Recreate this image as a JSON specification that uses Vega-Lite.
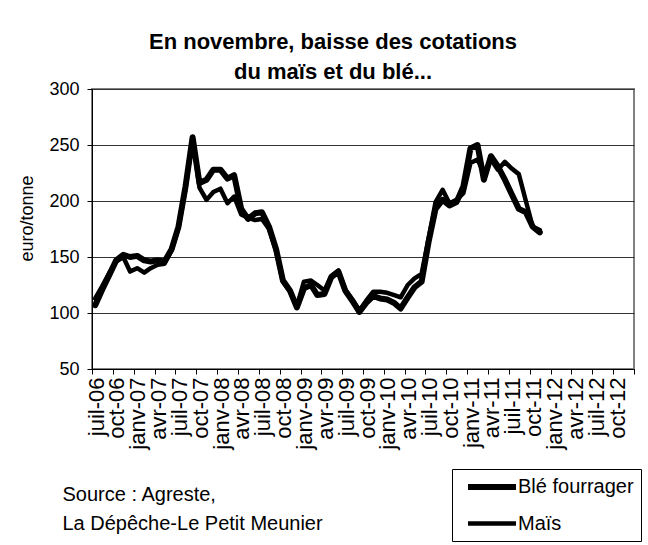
{
  "$schema": "https://vega.github.io/schema/vega-lite/v6.json",
  "autosize": "none",
  "padding": {"left": 92, "top": 89, "right": 14, "bottom": 176},
  "width": 542,
  "height": 280,
  "background": "white",
  "config": {
    "font": "Liberation Sans",
    "view": {"stroke": "#808080", "strokeWidth": 2}
  },
  "title": {
    "text": ["En novembre, baisse des cotations", "du maïs et du blé..."],
    "fontSize": 22,
    "fontWeight": "bold",
    "color": "black",
    "anchor": "middle",
    "dx": -30,
    "offset": -4,
    "lineHeight": 30
  },
  "data": {
    "values": [
      {"mois": "2006-07-15", "Blé fourrager": 107, "Maïs": 113},
      {"mois": "2006-08-15", "Blé fourrager": 121, "Maïs": 124},
      {"mois": "2006-09-15", "Blé fourrager": 134, "Maïs": 136},
      {"mois": "2006-10-15", "Blé fourrager": 147, "Maïs": 146},
      {"mois": "2006-11-15", "Blé fourrager": 152, "Maïs": 150},
      {"mois": "2006-12-15", "Blé fourrager": 150, "Maïs": 137},
      {"mois": "2007-01-15", "Blé fourrager": 151, "Maïs": 140},
      {"mois": "2007-02-15", "Blé fourrager": 147, "Maïs": 136},
      {"mois": "2007-03-15", "Blé fourrager": 146, "Maïs": 140},
      {"mois": "2007-04-15", "Blé fourrager": 147, "Maïs": 143},
      {"mois": "2007-05-15", "Blé fourrager": 146, "Maïs": 144},
      {"mois": "2007-06-15", "Blé fourrager": 157, "Maïs": 156},
      {"mois": "2007-07-15", "Blé fourrager": 177, "Maïs": 176},
      {"mois": "2007-08-15", "Blé fourrager": 213, "Maïs": 211},
      {"mois": "2007-09-15", "Blé fourrager": 257, "Maïs": 256},
      {"mois": "2007-10-15", "Blé fourrager": 216, "Maïs": 212},
      {"mois": "2007-11-15", "Blé fourrager": 219, "Maïs": 201},
      {"mois": "2007-12-15", "Blé fourrager": 228, "Maïs": 208},
      {"mois": "2008-01-15", "Blé fourrager": 228, "Maïs": 211},
      {"mois": "2008-02-15", "Blé fourrager": 220, "Maïs": 198},
      {"mois": "2008-03-15", "Blé fourrager": 223, "Maïs": 204},
      {"mois": "2008-04-15", "Blé fourrager": 193, "Maïs": 188},
      {"mois": "2008-05-15", "Blé fourrager": 184, "Maïs": 185},
      {"mois": "2008-06-15", "Blé fourrager": 189, "Maïs": 183},
      {"mois": "2008-07-15", "Blé fourrager": 190, "Maïs": 184},
      {"mois": "2008-08-15", "Blé fourrager": 177, "Maïs": 175},
      {"mois": "2008-09-15", "Blé fourrager": 157, "Maïs": 155},
      {"mois": "2008-10-15", "Blé fourrager": 129, "Maïs": 128},
      {"mois": "2008-11-15", "Blé fourrager": 120, "Maïs": 119},
      {"mois": "2008-12-15", "Blé fourrager": 105, "Maïs": 106},
      {"mois": "2009-01-15", "Blé fourrager": 122, "Maïs": 128},
      {"mois": "2009-02-15", "Blé fourrager": 125, "Maïs": 129},
      {"mois": "2009-03-15", "Blé fourrager": 116, "Maïs": 125},
      {"mois": "2009-04-15", "Blé fourrager": 117, "Maïs": 120},
      {"mois": "2009-05-15", "Blé fourrager": 132, "Maïs": 133},
      {"mois": "2009-06-15", "Blé fourrager": 137, "Maïs": 138},
      {"mois": "2009-07-15", "Blé fourrager": 120, "Maïs": 121},
      {"mois": "2009-08-15", "Blé fourrager": 111, "Maïs": 112},
      {"mois": "2009-09-15", "Blé fourrager": 101, "Maïs": 102},
      {"mois": "2009-10-15", "Blé fourrager": 109, "Maïs": 111},
      {"mois": "2009-11-15", "Blé fourrager": 115, "Maïs": 119},
      {"mois": "2009-12-15", "Blé fourrager": 113, "Maïs": 119},
      {"mois": "2010-01-15", "Blé fourrager": 112, "Maïs": 118},
      {"mois": "2010-02-15", "Blé fourrager": 109, "Maïs": 116},
      {"mois": "2010-03-15", "Blé fourrager": 104, "Maïs": 114},
      {"mois": "2010-04-15", "Blé fourrager": 114, "Maïs": 125},
      {"mois": "2010-05-15", "Blé fourrager": 123, "Maïs": 131},
      {"mois": "2010-06-15", "Blé fourrager": 128, "Maïs": 135},
      {"mois": "2010-07-15", "Blé fourrager": 163, "Maïs": 166},
      {"mois": "2010-08-15", "Blé fourrager": 193, "Maïs": 199},
      {"mois": "2010-09-15", "Blé fourrager": 201, "Maïs": 210},
      {"mois": "2010-10-15", "Blé fourrager": 196, "Maïs": 198},
      {"mois": "2010-11-15", "Blé fourrager": 199, "Maïs": 201},
      {"mois": "2010-12-15", "Blé fourrager": 213, "Maïs": 207},
      {"mois": "2011-01-15", "Blé fourrager": 247, "Maïs": 234},
      {"mois": "2011-02-15", "Blé fourrager": 250, "Maïs": 237},
      {"mois": "2011-03-15", "Blé fourrager": 219, "Maïs": 225},
      {"mois": "2011-04-15", "Blé fourrager": 240, "Maïs": 237},
      {"mois": "2011-05-15", "Blé fourrager": 231, "Maïs": 228},
      {"mois": "2011-06-15", "Blé fourrager": 219, "Maïs": 235},
      {"mois": "2011-07-15", "Blé fourrager": 206, "Maïs": 229},
      {"mois": "2011-08-15", "Blé fourrager": 193, "Maïs": 224},
      {"mois": "2011-09-15", "Blé fourrager": 190, "Maïs": 200},
      {"mois": "2011-10-15", "Blé fourrager": 177, "Maïs": 177},
      {"mois": "2011-11-15", "Blé fourrager": 172, "Maïs": 174}
    ]
  },
  "transform": [{"fold": ["Blé fourrager", "Maïs"], "as": ["serie", "prix"]}],
  "mark": {"type": "line", "strokeJoin": "round", "strokeCap": "round"},
  "encoding": {
    "x": {
      "field": "mois",
      "type": "temporal",
      "scale": {
        "type": "utc",
        "domain": [
          {"year": 2006, "month": 7, "date": 1, "utc": true},
          {"year": 2013, "month": 1, "date": 1, "utc": true}
        ]
      },
      "axis": {
        "values": [
          {"year": 2006, "month": 7, "date": 1, "utc": true},
          {"year": 2006, "month": 10, "date": 1, "utc": true},
          {"year": 2007, "month": 1, "date": 1, "utc": true},
          {"year": 2007, "month": 4, "date": 1, "utc": true},
          {"year": 2007, "month": 7, "date": 1, "utc": true},
          {"year": 2007, "month": 10, "date": 1, "utc": true},
          {"year": 2008, "month": 1, "date": 1, "utc": true},
          {"year": 2008, "month": 4, "date": 1, "utc": true},
          {"year": 2008, "month": 7, "date": 1, "utc": true},
          {"year": 2008, "month": 10, "date": 1, "utc": true},
          {"year": 2009, "month": 1, "date": 1, "utc": true},
          {"year": 2009, "month": 4, "date": 1, "utc": true},
          {"year": 2009, "month": 7, "date": 1, "utc": true},
          {"year": 2009, "month": 10, "date": 1, "utc": true},
          {"year": 2010, "month": 1, "date": 1, "utc": true},
          {"year": 2010, "month": 4, "date": 1, "utc": true},
          {"year": 2010, "month": 7, "date": 1, "utc": true},
          {"year": 2010, "month": 10, "date": 1, "utc": true},
          {"year": 2011, "month": 1, "date": 1, "utc": true},
          {"year": 2011, "month": 4, "date": 1, "utc": true},
          {"year": 2011, "month": 7, "date": 1, "utc": true},
          {"year": 2011, "month": 10, "date": 1, "utc": true},
          {"year": 2012, "month": 1, "date": 1, "utc": true},
          {"year": 2012, "month": 4, "date": 1, "utc": true},
          {"year": 2012, "month": 7, "date": 1, "utc": true},
          {"year": 2012, "month": 10, "date": 1, "utc": true},
          {"year": 2013, "month": 1, "date": 1, "utc": true}
        ],
        "labelExpr": "utcyear(datum.value) > 2012 ? '' : ['janv','févr','mars','avr','mai','juin','juil','août','sept','oct','nov','déc'][utcmonth(datum.value)] + '-' + utcFormat(datum.value, '%y')",
        "labelAngle": 270,
        "labelAlign": "right",
        "labelBaseline": "middle",
        "labelFontSize": 22,
        "labelColor": "black",
        "labelPadding": 3,
        "labelOffset": 4,
        "labelOverlap": false,
        "labelFlush": false,
        "labelBound": false,
        "tickSize": 5,
        "tickColor": "black",
        "domainColor": "black",
        "grid": false,
        "title": ["Source : Agreste,", "\u00a0La Dépêche-Le Petit Meunier"],
        "titleFontSize": 20,
        "titleFontWeight": "normal",
        "titleColor": "black",
        "titleAnchor": "start",
        "titleAlign": "left",
        "titleBaseline": "alphabetic",
        "titleX": -30,
        "titleY": 131,
        "titleLineHeight": 29
      }
    },
    "y": {
      "field": "prix",
      "type": "quantitative",
      "scale": {"domain": [50, 300], "nice": false, "zero": false},
      "axis": {
        "values": [50, 100, 150, 200, 250, 300],
        "title": "euro/tonne",
        "titleFontSize": 18,
        "titleFontWeight": "normal",
        "titleColor": "black",
        "titleX": -65,
        "titleY": 129,
        "titleAlign": "center",
        "titleBaseline": "middle",
        "labelFontSize": 18,
        "labelColor": "black",
        "labelPadding": 8,
        "tickSize": 5,
        "tickColor": "black",
        "domainColor": "black",
        "gridColor": "#333333",
        "gridWidth": 1
      }
    },
    "color": {
      "field": "serie",
      "type": "nominal",
      "scale": {"domain": ["Blé fourrager", "Maïs"], "range": ["black", "black"]},
      "legend": {
        "orient": "none",
        "legendX": 360,
        "legendY": 380,
        "title": null,
        "symbolType": "M-3,0H3",
        "symbolSize": 256,
        "symbolOffset": 22,
        "labelFontSize": 20,
        "labelColor": "black",
        "labelOffset": 15,
        "strokeColor": "black",
        "padding": 7,
        "rowPadding": 14
      }
    },
    "strokeWidth": {
      "field": "serie",
      "type": "nominal",
      "scale": {"domain": ["Blé fourrager", "Maïs"], "range": [6, 4.5]},
      "legend": {
        "orient": "none",
        "legendX": 360,
        "legendY": 380,
        "title": null,
        "symbolType": "M-3,0H3",
        "symbolSize": 256,
        "symbolOffset": 22,
        "labelFontSize": 20,
        "labelColor": "black",
        "labelOffset": 15,
        "strokeColor": "black",
        "padding": 7,
        "rowPadding": 14
      }
    }
  }
}
